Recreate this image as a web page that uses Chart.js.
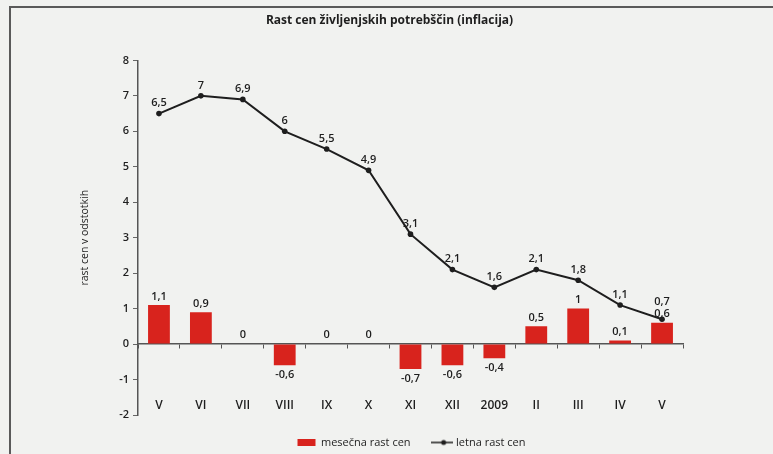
<!DOCTYPE html>
<html>
<head>
<meta charset="utf-8">
<script src="https://cdn.jsdelivr.net/npm/chart.js@4.4.1/dist/chart.umd.min.js"></script>
<style>
  html, body { margin: 0; padding: 0; background: #f1f2f0; }
  #wrap { position: relative; width: 773px; height: 454px; }
  #frame { position: absolute; left: 9px; top: 6px; right: -4px; bottom: -4px;
           border-left: 2px solid #5a5a5a; border-top: 2px solid #5a5a5a; }
  canvas { position: absolute; left: 0; top: 0; }
</style>
</head>
<body>
<div id="wrap">
  <div id="frame"></div>
  <canvas id="chart" width="773" height="454"></canvas>
</div>
<script>
// mesečni in letni podatki o rasti cen
var meseci = ['V', 'VI', 'VII', 'VIII', 'IX', 'X', 'XI', 'XII', '2009', 'II', 'III', 'IV', 'V'];
var mesecnaRast = [1.1, 0.9, 0, -0.6, 0, 0, -0.7, -0.6, -0.4, 0.5, 1, 0.1, 0.6];
var letnaRast = [6.5, 7, 6.9, 6, 5.5, 4.9, 3.1, 2.1, 1.6, 2.1, 1.8, 1.1, 0.7];
var yTicks = [-2, -1, 0, 1, 2, 3, 4, 5, 6, 7, 8];

var rdeca = '#d8231d';
var crna = '#1e1e1e';
var pisava = "'Open Sans', 'Noto Sans', sans-serif";

// ikona za legendo: črta s piko
var lineIcon = document.createElement('canvas');
lineIcon.width = 22;
lineIcon.height = 8;
(function () {
    var c = lineIcon.getContext('2d');
    c.strokeStyle = crna;
    c.lineWidth = 1.5;
    c.beginPath();
    c.moveTo(0, 4);
    c.lineTo(22, 4);
    c.stroke();
    c.fillStyle = crna;
    c.beginPath();
    c.arc(13, 4, 2.5, 0, Math.PI * 2);
    c.fill();
})();

function fmt(v) {
    return String(v).replace('.', ',');
}

// izpis vrednosti nad stolpci in točkami
var valueLabels = {
    id: 'valueLabels',
    afterDatasetsDraw: function (chart) {
        var ctx = chart.ctx;
        var barMeta = chart.getDatasetMeta(0);
        var lineMeta = chart.getDatasetMeta(1);
        var zeroY = chart.scales.y.getPixelForValue(0);
        ctx.save();
        ctx.font = '600 11px ' + pisava;
        ctx.fillStyle = crna;
        ctx.textAlign = 'center';
        for (var i = 0; i < meseci.length; i++) {
            var bar = barMeta.data[i];
            var v = mesecnaRast[i];
            var barLabelY;
            if (v > 0) {
                ctx.textBaseline = 'bottom';
                barLabelY = bar.y - 3;
                ctx.fillText(fmt(v), bar.x, barLabelY);
            } else if (v < 0) {
                ctx.textBaseline = 'top';
                ctx.fillText(fmt(v), bar.x, bar.y + 4);
            } else {
                ctx.textBaseline = 'bottom';
                barLabelY = zeroY - 4;
                ctx.fillText('0', bar.x, barLabelY);
            }
            var pt = lineMeta.data[i];
            var lineLabelY = pt.y - 5;
            if (barLabelY !== undefined && v > 0 && lineLabelY > barLabelY - 13) {
                lineLabelY = barLabelY - 12;
            }
            ctx.textBaseline = 'bottom';
            ctx.fillText(fmt(letnaRast[i]), pt.x, lineLabelY);
        }
        ctx.restore();
    }
};

// naslov in legenda sta v izvirniku malo desno od sredine
var shiftBoxes = {
    id: 'shiftBoxes',
    afterLayout: function (chart) {
        chart.legend.left += 32;
        chart.legend.right += 32;
        chart.titleBlock.left += 10;
        chart.titleBlock.right += 10;
    }
};

var chart = new Chart(document.getElementById('chart'), {
    type: 'bar',
    data: {
        labels: meseci,
        datasets: [{
            label: 'mesečna rast cen',
            data: mesecnaRast,
            backgroundColor: rdeca,
            borderWidth: 0,
            categoryPercentage: 1,
            barPercentage: 0.52
        }, {
            type: 'line',
            label: 'letna rast cen',
            data: letnaRast,
            borderColor: crna,
            backgroundColor: crna,
            borderWidth: 2,
            pointRadius: 2.8,
            pointBackgroundColor: crna,
            pointBorderWidth: 0,
            tension: 0,
            order: -1
        }]
    },
    options: {
        responsive: false,
        animation: false,
        layout: {
            padding: { left: 76, right: 90, top: 0, bottom: -4 }
        },
        plugins: {
            title: {
                display: true,
                text: 'Rast cen življenjskih potrebščin (inflacija)',
                color: crna,
                font: { family: pisava, size: 12, weight: 'bold' },
                padding: { top: 13, bottom: 33 }
            },
            legend: {
                position: 'bottom',
                labels: {
                    usePointStyle: true,
                    pointStyleWidth: 18,
                    boxHeight: 7,
                    padding: 22,
                    color: crna,
                    font: { family: pisava, size: 11 },
                    generateLabels: function (c) {
                        return [{
                            text: 'mesečna rast cen',
                            fillStyle: rdeca,
                            strokeStyle: rdeca,
                            lineWidth: 0,
                            pointStyle: 'rect',
                            datasetIndex: 0,
                            fontColor: crna
                        }, {
                            text: 'letna rast cen',
                            fillStyle: crna,
                            strokeStyle: crna,
                            lineWidth: 0,
                            pointStyle: lineIcon,
                            datasetIndex: 1,
                            fontColor: crna
                        }];
                    }
                }
            },
            tooltip: { enabled: false }
        },
        scales: {
            x: {
                position: { y: 0 },
                grid: {
                    drawOnChartArea: false,
                    tickLength: 4,
                    color: '#555'
                },
                border: { color: '#555', width: 1.5 },
                ticks: {
                    padding: 50,
                    color: crna,
                    font: { family: pisava, size: 12, weight: '600' }
                }
            },
            y: {
                min: -2,
                max: 8,
                afterBuildTicks: function (axis) {
                    axis.ticks = yTicks.map(function (v) { return { value: v }; });
                },
                afterFit: function (axis) {
                    axis.width = 62;
                },
                grid: {
                    drawOnChartArea: false,
                    tickLength: 5,
                    color: '#666'
                },
                border: { color: '#555', width: 1.5 },
                ticks: {
                    padding: 4,
                    color: crna,
                    font: { family: pisava, size: 11, weight: '600' }
                },
                title: {
                    display: true,
                    text: 'rast cen v odstotkih',
                    color: crna,
                    font: { family: pisava, size: 10.5 },
                    padding: { top: 3, bottom: 0 }
                }
            }
        }
    },
    plugins: [valueLabels, shiftBoxes]
});
</script>
</body>
</html>
